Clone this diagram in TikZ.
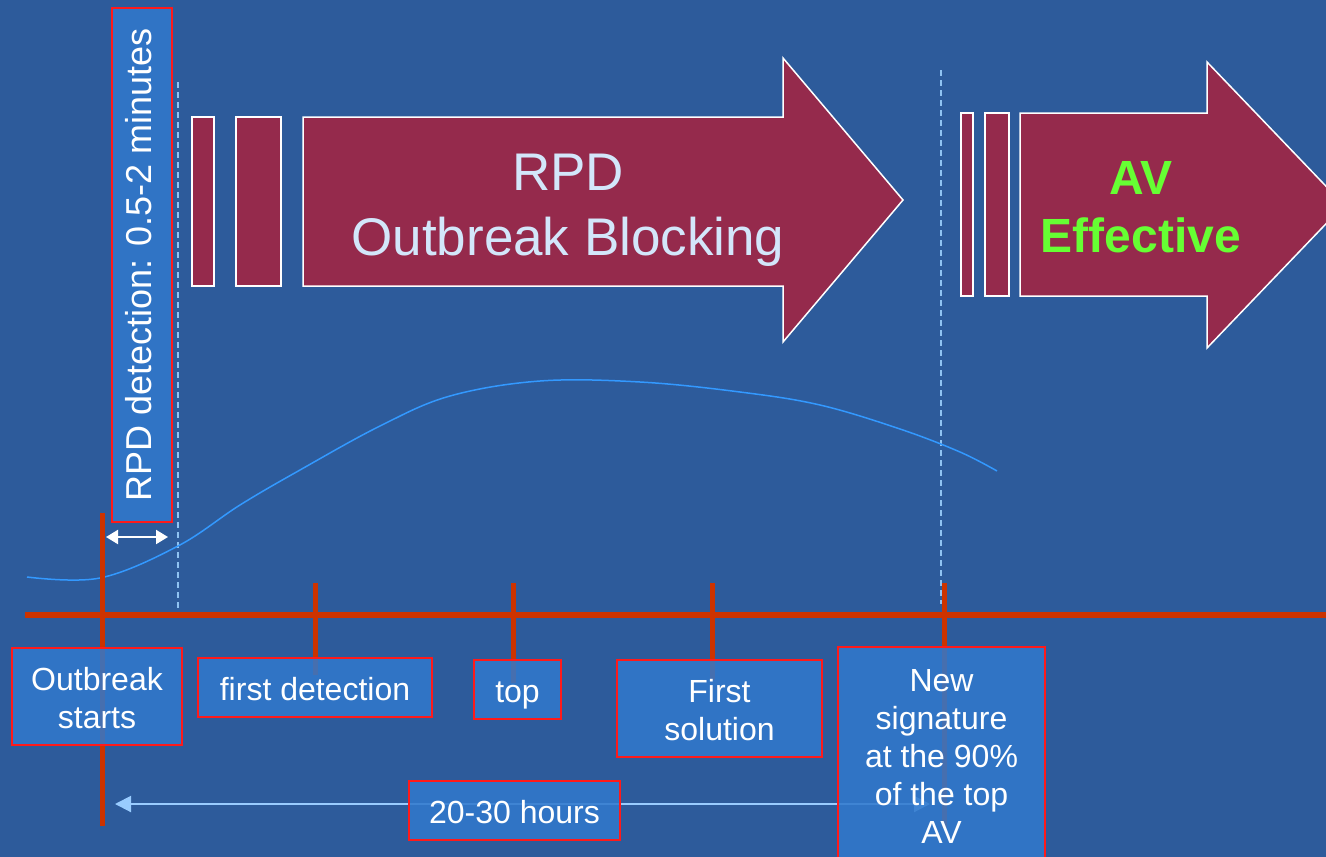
\documentclass[tikz,border=0pt]{standalone}
\usepackage{fontspec}
\setmainfont{Liberation Sans}
\usepackage{tikz}
\usetikzlibrary{arrows.meta,positioning,calc}
\definecolor{bg}{HTML}{2D5B9B}
\definecolor{boxblue}{HTML}{3179CC}
\definecolor{boxred}{HTML}{FF1A1A}
\definecolor{wine}{HTML}{952A4C}
\definecolor{axis}{HTML}{CC3300}
\definecolor{curve}{HTML}{3399FF}
\definecolor{guide}{HTML}{8FC3F2}
\definecolor{pale}{HTML}{D3E6FA}
\definecolor{avgreen}{HTML}{66FF33}
\definecolor{span}{HTML}{99CCFF}
\newcommand\hiline{\rule{0pt}{32pt}}
\newcommand\loline{\rule[-7pt]{0pt}{7pt}}
\tikzset{
  tag/.style={draw=boxred, line width=2pt, fill=boxblue, fill opacity=0.86,
              text opacity=1, text=white, align=center, inner sep=0pt,
              font=\fontsize{32}{38}\selectfont},
  phase/.style={draw=white, line width=1.5pt, fill=wine, line join=miter},
  guideline/.style={draw=guide, line width=1.5pt, dash pattern=on 6pt off 4pt},
  tick/.style={draw=axis, line width=5pt},
  spanarrow/.style={{Triangle[length=16pt,width=16pt]}-{Triangle[length=16pt,width=16pt]},
                    draw=span, line width=2pt},
}

\begin{document}
\begin{tikzpicture}[x=1pt, y=-1pt]
  \useasboundingbox (0,0) rectangle (1326,857);
  \clip (0,0) rectangle (1326,857);
  \fill[bg] (0,0) rectangle (1326,857);

  % guides
  \coordinate (g1-a) at (178,82);  \coordinate (g1-b) at (178,608);
  \coordinate (g2-a) at (941,70);  \coordinate (g2-b) at (941,604);
  \draw[guideline] (g1-a) -- (g1-b);
  \draw[guideline] (g2-a) -- (g2-b);

  % phase arrows
  \draw[phase] (192,117) rectangle (214,286);
  \draw[phase] (236,117) rectangle (281,286);
  \draw[phase] (303,117) -- (783,117) -- (783,58) -- (903,200)
               -- (783,342) -- (783,286) -- (303,286) -- cycle;
  \node[text=pale, align=center, font=\fontsize{53}{65}\selectfont] (rpd) at (568,210)
       {RPD\\Outbreak Blocking};

  \draw[phase] (961,113) rectangle (973,296);
  \draw[phase] (985,113) rectangle (1009,296);
  \draw[phase] (1020,113) -- (1207,113) -- (1207,62) -- (1344,205)
               -- (1207,348) -- (1207,296) -- (1020,296) -- cycle;
  \node[text=avgreen, align=center, font=\fontsize{48}{58}\bfseries\selectfont] (av)
       at (1141,207) {AV\\Effective};

  % spread curve
  \draw[curve, line width=1.5pt] plot[smooth, tension=0.6] coordinates
    {(27,577) (100,578) (178,546) (240,505) (300,470) (380,426) (450,396)
     (540,381) (640,382) (740,392) (820,405) (900,429) (960,452) (997,471)};

  % time line
  \coordinate (ax-l) at (25,615);  \coordinate (ax-r) at (1330,615);
  \draw[tick, line width=6pt] (ax-l) -- (ax-r);
  \foreach \n/\x/\a/\b in {t1/102/513/826, t2/315/583/675, t3/513/583/683,
                           t4/712/583/680, t5/944/583/828}{
    \coordinate (\n-a) at (\x,\a);
    \coordinate (\n-b) at (\x,\b);
    \draw[tick] (\n-a) -- (\n-b);
  }

  \coordinate (span-l) at (115,804);  \coordinate (span-r) at (930,804);
  \draw[spanarrow] (span-l) -- (span-r);
  \coordinate (det-l) at (106,537);  \coordinate (det-r) at (168,537);
  \draw[{Triangle[length=12pt,width=14pt]}-{Triangle[length=12pt,width=14pt]},
        draw=white, line width=2pt] (det-l) -- (det-r);

  % labels
  \node[tag, rotate=90, minimum width=514pt, minimum height=60pt,
        font=\fontsize{36}{40}\selectfont] (detect) at (142,265)
       {\rule[-8pt]{0pt}{35pt}RPD detection: 0.5-2 minutes};
  \node[tag, minimum width=170pt, minimum height=97pt] (start) at (97,696.5)
       {\hiline Outbreak\\starts\loline};
  \node[tag, minimum width=234pt, minimum height=59pt] (first) at (315,687.5)
       {\hiline first detection\loline};
  \node[tag, minimum width=87pt, minimum height=59pt] (top) at (517.5,689.5)
       {\hiline top\loline};
  \node[tag, minimum width=205pt, minimum height=97pt] (sol) at (719.5,708.5)
       {\hiline First\\solution\loline};
  \node[tag, minimum width=207pt, minimum height=216pt] (sig) at (941.5,755)
       {\hiline New\\signature\\at the 90\%\\of the top\\AV\loline};
  \node[tag, minimum width=211pt, minimum height=59pt] (hours) at (514.5,810.5)
       {\hiline 20-30 hours\loline};
\end{tikzpicture}
\end{document}
